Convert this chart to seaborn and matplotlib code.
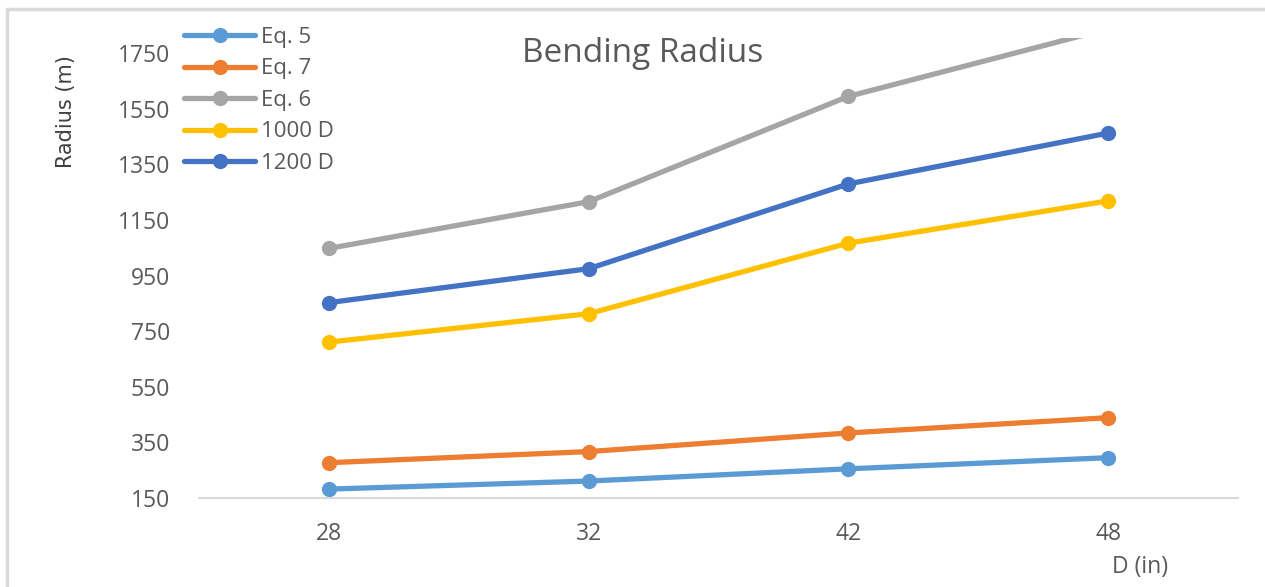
import matplotlib
matplotlib.use("Agg")
import matplotlib.pyplot as plt
from matplotlib.lines import Line2D
import pandas as pd
import seaborn as sns

# Pipe diameters (in) and bending radius (m) for each criterion
diameters = ["28", "32", "42", "48"]
eq5 = [182, 211, 255, 295]
eq7 = [277, 317, 384, 439]
eq6 = [1048, 1216, 1595, 1838]
d1000 = [711, 813, 1067, 1219]
d1200 = [853, 975, 1280, 1463]

series_names = ["Eq. 5", "Eq. 7", "Eq. 6", "1000 D", "1200 D"]
series_values = [eq5, eq7, eq6, d1000, d1200]
colors = ["#5B9BD5", "#ED7D31", "#A5A5A5", "#FFC000", "#4472C4"]

y_ticks = [150, 350, 550, 750, 950, 1150, 1350, 1550, 1750]

rows = []
for name, vals in zip(series_names, series_values):
    for i, (d, v) in enumerate(zip(diameters, vals)):
        rows.append({"pos": i, "D": d, "Radius": v, "Series": name})
df = pd.DataFrame(rows)

sns.set_theme(style="white")
plt.rcParams["font.family"] = ["Open Sans", "DejaVu Sans"]

text_gray = "#595959"
fig = plt.figure(figsize=(12.65, 5.87), dpi=100)
ax = fig.add_axes([199 / 1265, 1 - 498 / 587, (1238 - 199) / 1265, (498 - 38) / 587])

palette = dict(zip(series_names, colors))
sns.lineplot(data=df, x="pos", y="Radius", hue="Series", hue_order=series_names,
             palette=palette, marker="o", markersize=11, markeredgewidth=0,
             linewidth=3.8, sort=False, legend=False, ax=ax, clip_on=True)

ax.set_xlim(-0.5, 3.5)
ax.set_ylim(150, 1805)
ax.set_xticks(range(len(diameters)))
ax.set_xticklabels(diameters)
ax.set_yticks(y_ticks)
ax.tick_params(axis="both", length=0, labelsize=16.5, labelcolor=text_gray)
ax.tick_params(axis="x", pad=17)
ax.tick_params(axis="y", pad=21)
ax.set_xlabel("")
ax.set_ylabel("")
for s in ["top", "right", "left"]:
    ax.spines[s].set_visible(False)
ax.spines["bottom"].set_color("#D9D9D9")
ax.spines["bottom"].set_linewidth(1.5)
ax.grid(False)

# Title placed inside the plot area
fig.text(643 / 1265, 1 - 54 / 587, "Bending Radius", ha="center", va="center",
         fontsize=24, color=text_gray)

# Axis titles
fig.text(66 / 1265, 1 - 112 / 587, "Radius (m)", rotation=90, ha="center", va="center",
         fontsize=15, color="#404040", family=["Liberation Sans Narrow", "DejaVu Sans"])
fig.text(1140 / 1265, 1 - 567 / 587, "D (in)", ha="center", va="center",
         fontsize=16.5, color=text_gray)

# Legend
handles = [Line2D([0], [0], color=c, lw=3.8, marker="o", markersize=11, markeredgewidth=0)
           for c in colors]
leg = fig.legend(handles, series_names, loc="upper left",
                 bbox_to_anchor=(184 / 1265, 1 - 27 / 587), frameon=False,
                 fontsize=16, handlelength=3.2, handletextpad=0.25,
                 labelspacing=0.47, borderpad=0, borderaxespad=0)
for t in leg.get_texts():
    t.set_color(text_gray)

# Chart area border
fig.add_artist(Line2D([7.5 / 1265, 7.5 / 1265], [0, 1 - 9 / 587],
                      transform=fig.transFigure, color="#D9D9D9", lw=2.5))
fig.add_artist(Line2D([7.5 / 1265, 1], [1 - 9 / 587, 1 - 9 / 587],
                      transform=fig.transFigure, color="#D9D9D9", lw=2.5))

fig.savefig("out.png", dpi=100)
